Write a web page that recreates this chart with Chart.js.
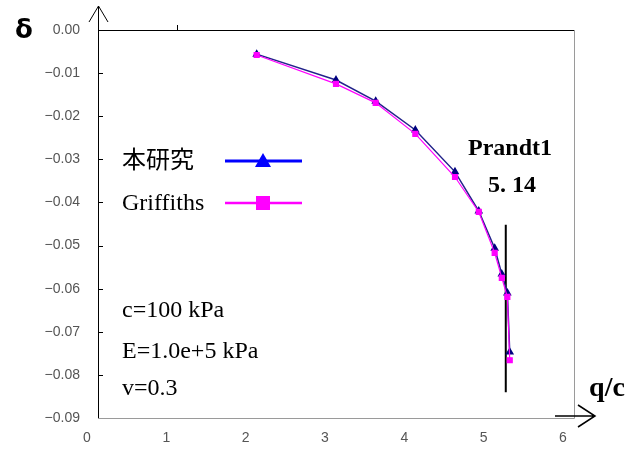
<!DOCTYPE html>
<html>
<head>
<meta charset="utf-8">
<script src="https://cdn.jsdelivr.net/npm/chart.js@4/dist/chart.umd.min.js"></script>
<style>
  body { margin: 0; background: #fff; }
  #wrap { width: 642px; height: 452px; }
</style>
</head>
<body>
<div id="wrap"><canvas id="deformChart"></canvas></div>
<script>
// q/c values (load ratio)
const qc = [2.0, 3.0, 3.5, 4.0, 4.5, 4.8, 5.0, 5.09, 5.16, 5.19];
// settlement ratio, this study
const studyDelta = [-0.0056, -0.0116, -0.0165, -0.0232, -0.0329, -0.0420, -0.0506, -0.0566, -0.0610, -0.0747];
// settlement ratio, Griffiths
const griffithsDelta = [-0.0058, -0.0125, -0.0169, -0.0241, -0.0341, -0.0422, -0.0517, -0.0575, -0.0619, -0.0766];
// Prandtl limit line
const prandtlQ = [5.14, 5.14];
const prandtlDelta = [-0.0452, -0.084];

const seriesNames = ["本研究", "Griffiths"];
const notes = ["c=100 kPa", "E=1.0e+5 kPa", "v=0.3"];

const toPoints = (xs, ys) => xs.map((v, i) => ({ x: v, y: ys[i] }));

const decorations = {
  id: "decorations",
  afterDraw(chart) {
    const { ctx, chartArea: a, scales: { x, y } } = chart;
    ctx.save();

    // left axis with arrow + top line
    ctx.strokeStyle = "#000";
    ctx.lineWidth = 1;
    ctx.beginPath();
    ctx.moveTo(a.left + 0.5, a.bottom);
    ctx.lineTo(a.left + 0.5, 6);
    ctx.moveTo(a.left - 9, 22);
    ctx.lineTo(a.left + 0.5, 6);
    ctx.lineTo(a.left + 10, 22);
    ctx.moveTo(a.left, a.top + 0.5);
    ctx.lineTo(a.right, a.top + 0.5);
    ctx.stroke();

    // small tick on top edge
    const tx = Math.round(x.getPixelForValue(1)) + 0.5;
    ctx.beginPath();
    ctx.moveTo(tx, a.top);
    ctx.lineTo(tx, a.top - 5);
    ctx.stroke();

    // inward ticks on y axis
    y.ticks.forEach(t => {
      const py = Math.round(y.getPixelForValue(t.value)) + 0.5;
      ctx.beginPath();
      ctx.moveTo(a.left, py);
      ctx.lineTo(a.left + 5, py);
      ctx.stroke();
    });

    // right and bottom grey frame
    ctx.strokeStyle = "#9a9a9a";
    ctx.beginPath();
    ctx.moveTo(a.right + 0.5, a.top);
    ctx.lineTo(a.right + 0.5, a.bottom + 0.5);
    ctx.lineTo(a.left, a.bottom + 0.5);
    ctx.stroke();

    // x arrow
    ctx.strokeStyle = "#000";
    ctx.lineWidth = 1.5;
    ctx.beginPath();
    ctx.moveTo(a.right - 19, a.bottom - 2);
    ctx.lineTo(a.right + 21, a.bottom - 2);
    ctx.moveTo(a.right + 4, a.bottom - 13);
    ctx.lineTo(a.right + 21, a.bottom - 2);
    ctx.lineTo(a.right + 4, a.bottom + 9);
    ctx.stroke();

    // axis titles
    ctx.fillStyle = "#000";
    ctx.textBaseline = "middle";
    ctx.textAlign = "center";
    ctx.font = "bold 26px 'DejaVu Sans'";
    ctx.fillText("δ", 24, 31);
    ctx.font = "bold 28px 'Liberation Serif'";
    ctx.fillText("q/c", 607, 389);

    // Prandtl label
    ctx.font = "bold 24px 'Liberation Serif'";
    ctx.fillText("Prandt1", 510, 149);
    ctx.fillText("5. 14", 512, 186);

    // legend
    ctx.textAlign = "left";
    ctx.font = "24px 'Liberation Serif', 'Noto Sans CJK JP'";
    ctx.fillText(seriesNames[0], 122, 162);
    ctx.fillText(seriesNames[1], 122, 204);

    ctx.strokeStyle = "#0000ff";
    ctx.lineWidth = 3;
    ctx.beginPath();
    ctx.moveTo(225, 161);
    ctx.lineTo(302, 161);
    ctx.stroke();
    ctx.fillStyle = "#0000ff";
    ctx.beginPath();
    ctx.moveTo(263, 153);
    ctx.lineTo(271, 167);
    ctx.lineTo(255, 167);
    ctx.closePath();
    ctx.fill();

    ctx.strokeStyle = "#ff00ff";
    ctx.lineWidth = 2.5;
    ctx.beginPath();
    ctx.moveTo(225, 203);
    ctx.lineTo(302, 203);
    ctx.stroke();
    ctx.fillStyle = "#ff00ff";
    ctx.fillRect(256, 196, 14, 14);

    // material notes
    ctx.fillStyle = "#000";
    ctx.font = "24px 'Liberation Serif'";
    ctx.fillText(notes[0], 122, 311);
    ctx.fillText(notes[1], 122, 352);
    ctx.fillText(notes[2], 122, 389);

    ctx.restore();
  }
};

new Chart(document.getElementById("deformChart"), {
  type: "line",
  data: {
    datasets: [
      {
        label: seriesNames[0],
        data: toPoints(qc, studyDelta),
        borderColor: "#22228a",
        borderWidth: 1.5,
        pointStyle: "triangle",
        pointRadius: 3.5,
        pointBackgroundColor: "#000080",
        pointBorderColor: "#000080",
        tension: 0,
        order: 1
      },
      {
        label: seriesNames[1],
        data: toPoints(qc, griffithsDelta),
        borderColor: "#ff00ff",
        borderWidth: 1.2,
        pointStyle: "rect",
        pointRadius: 3.5,
        pointBackgroundColor: "#ff00ff",
        pointBorderColor: "#ff00ff",
        tension: 0,
        order: 0
      },
      {
        label: "Prandtl",
        data: toPoints(prandtlQ, prandtlDelta),
        borderColor: "#000",
        borderWidth: 2,
        pointRadius: 0,
        order: 2
      }
    ]
  },
  options: {
    responsive: true,
    maintainAspectRatio: false,
    animation: false,
    layout: { padding: { left: 0, top: 30, right: 68, bottom: 0 } },
    plugins: { legend: { display: false }, tooltip: { enabled: false } },
    scales: {
      x: {
        type: "linear",
        min: 0,
        max: 6,
        grid: { display: false, drawTicks: false },
        border: { display: false },
        ticks: { stepSize: 1, padding: 12, labelOffset: -11, color: "#555", font: { family: "Liberation Sans", size: 14 } },
        afterFit: s => { s.height = 34; }
      },
      y: {
        min: -0.09,
        max: 0,
        grid: { display: false, drawTicks: false },
        border: { display: false },
        ticks: {
          stepSize: 0.01,
          padding: 18,
          color: "#555",
          font: { family: "Liberation Sans", size: 14 },
          callback: v => v.toFixed(2).replace("-", "\u2212")
        },
        afterFit: s => { s.width = 98; }
      }
    }
  },
  plugins: [decorations]
});
</script>
</body>
</html>
